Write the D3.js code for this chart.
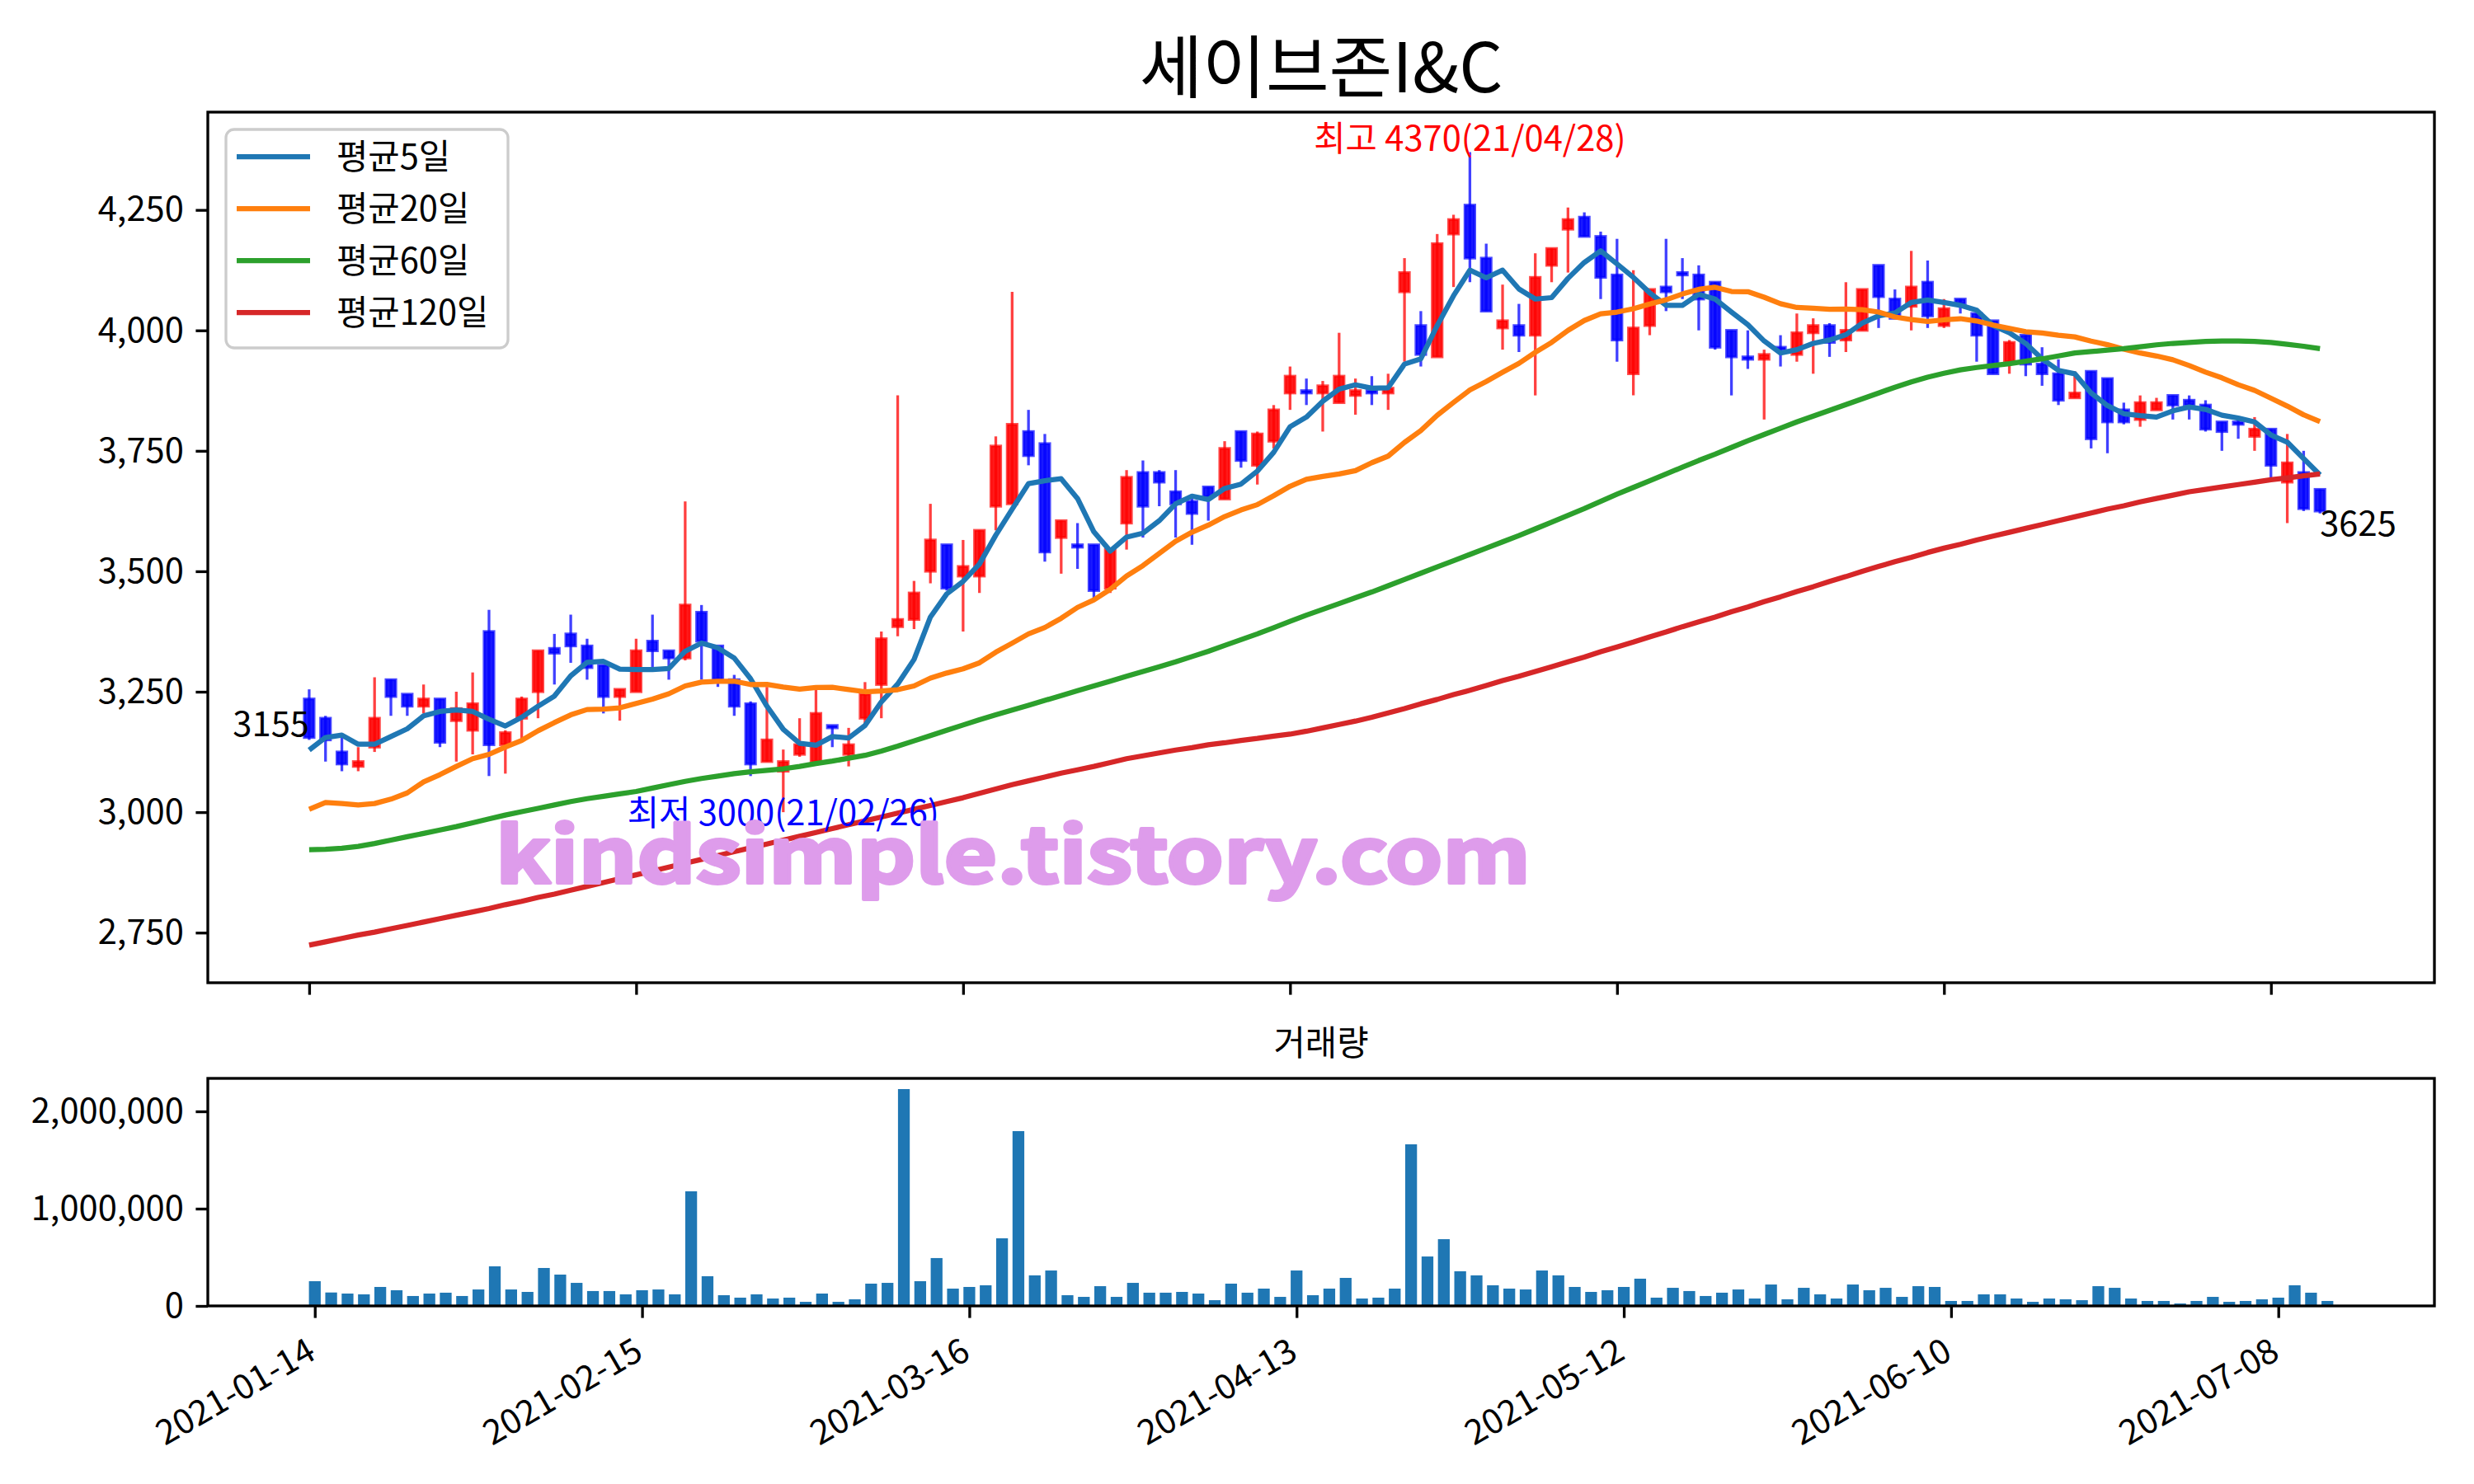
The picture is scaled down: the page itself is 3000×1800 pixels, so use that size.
<!DOCTYPE html>
<html><head><meta charset="utf-8">
<script src="https://cdn.jsdelivr.net/npm/d3@7"></script>
<style>
body{margin:0;background:#fff}
svg{display:block}
text{font-family:"Noto Sans CJK KR","Noto Sans",sans-serif}
</style>
</head><body>
<svg id="c" width="3000" height="1800"></svg>
<script>
const chartTitle = "세이브존I&C";
const volumeTitle = "거래량";
const tickIdx = [0,20,40,60,80,100,120];
const tickLabels = ["2021-01-14","2021-02-15","2021-03-16","2021-04-13","2021-05-12","2021-06-10","2021-07-08"];
const priceTicks = [2750,3000,3250,3500,3750,4000,4250];
const volumeTicks = [0,1000000,2000000];
const legendLabels = ["평균5일","평균20일","평균60일","평균120일"];
const highDateLabel = "21/04/28";
const lowDateLabel = "21/02/26";
const watermark = "kindsimple.tistory.com";

const openP = [3235,3195,3125,3095,3135,3275,3245,3220,3235,3190, 3170,3375,3140,3195,3250,3340,3370,3345,3305,3240, 3250,3355,3335,3320,3415,3345,3275,3225,3105,3085, 3120,3105,3180,3120,3195,3265,3385,3400,3500,3555, 3490,3490,3635,3640,3790,3765,3570,3555,3555,3465, 3600,3705,3705,3665,3645,3675,3650,3790,3720,3770, 3870,3875,3870,3850,3865,3875,3870,4080,4010,3945, 4200,4260,4150,4005,4010,3990,4135,4210,4235,4195, 4115,3910,4010,4090,4120,4115,4100,4000,3945,3940, 3965,3950,3995,4010,3980,4000,4135,4065,4050,4100, 4010,4065,4035,4020,3935,3990,3930,3910,3860,3915, 3900,3835,3815,3835,3865,3855,3845,3810,3810,3780, 3795,3685,3705,3670];
const highP = [3255,3200,3155,3135,3280,3275,3245,3265,3235,3250, 3290,3420,3170,3240,3335,3370,3410,3360,3305,3255, 3360,3410,3335,3645,3430,3345,3285,3230,3260,3130, 3195,3255,3180,3175,3270,3375,3865,3480,3640,3555, 3565,3585,3780,4080,3835,3785,3605,3600,3555,3545, 3710,3730,3710,3710,3660,3675,3770,3790,3790,3845, 3925,3900,3895,3995,3900,3905,3910,4150,4040,4200, 4240,4370,4180,4095,4055,4160,4170,4255,4245,4205, 4190,4125,4085,4190,4150,4135,4100,4000,4000,3960, 3990,4035,4025,4015,4100,4085,4135,4085,4165,4145, 4065,4065,4035,4020,3980,3990,3965,3940,3915,3915, 3900,3850,3865,3860,3865,3865,3855,3810,3815,3820, 3795,3785,3750,3670];
const lowP = [3150,3105,3085,3085,3125,3200,3200,3205,3135,3105, 3120,3075,3080,3150,3195,3265,3310,3275,3205,3190, 3250,3295,3275,3315,3275,3260,3200,3075,3105,3000, 3115,3105,3135,3095,3185,3195,3365,3380,3475,3460, 3375,3455,3585,3640,3720,3520,3495,3505,3445,3455, 3545,3570,3635,3570,3555,3605,3650,3715,3680,3755, 3835,3845,3790,3850,3825,3845,3835,3935,3925,3945, 4090,4100,4040,3960,3955,3865,4100,4120,4195,4065, 3935,3865,3990,4040,4065,4000,3960,3865,3920,3815, 3925,3935,3910,3945,3955,4000,4005,4025,4000,4005, 4005,4035,3935,3910,3910,3905,3885,3845,3860,3755, 3745,3805,3800,3835,3815,3815,3790,3750,3775,3750, 3690,3600,3625,3620];
const closeP = [3155,3150,3100,3105,3195,3240,3220,3235,3145,3215, 3225,3140,3165,3235,3335,3330,3345,3300,3240,3255, 3335,3335,3320,3430,3355,3275,3220,3100,3150,3105, 3140,3205,3175,3140,3245,3360,3400,3455,3565,3465, 3510,3585,3760,3805,3740,3540,3605,3550,3460,3545, 3695,3635,3685,3640,3620,3655,3755,3730,3785,3835, 3905,3870,3885,3905,3875,3870,3880,4120,3950,4180, 4230,4150,4040,4020,3990,4110,4170,4230,4195,4110, 3980,4005,4085,4080,4115,4065,3965,3945,3940,3950, 3960,3995,4010,3975,4000,4085,4070,4025,4090,4030, 4045,4055,3990,3910,3975,3930,3910,3855,3870,3775, 3810,3810,3850,3850,3845,3845,3795,3790,3805,3795, 3720,3725,3630,3625];
const volume = [254000,138000,127000,119000,195000,161000,102000,127000,136000,102000, 169000,407000,169000,144000,390000,322000,237000,153000,153000,119000, 161000,169000,119000,1178000,305000,110000,85000,119000,76000,85000, 42000,127000,42000,68000,229000,237000,2229000,254000,492000,178000, 195000,212000,695000,1797000,314000,364000,110000,93000,203000,93000, 237000,136000,136000,144000,127000,59000,229000,136000,178000,93000, 364000,110000,178000,288000,76000,85000,178000,1661000,508000,686000, 356000,314000,212000,178000,169000,364000,314000,195000,144000,161000, 195000,280000,85000,186000,153000,102000,136000,169000,76000,220000, 68000,186000,119000,76000,220000,161000,186000,93000,203000,195000, 51000,51000,119000,119000,76000,42000,76000,68000,59000,203000, 186000,76000,51000,51000,25000,51000,93000,42000,51000,68000, 85000,212000,136000,51000];
const ma5 = [3129,3155,3160,3141,3141,3157,3173,3200,3209,3212, 3209,3193,3179,3197,3220,3241,3283,3311,3313,3297, 3296,3296,3298,3334,3351,3341,3320,3277,3220,3172, 3143,3139,3157,3154,3180,3229,3266,3317,3405,3453, 3479,3515,3575,3629,3682,3688,3692,3651,3582,3542, 3571,3579,3605,3640,3656,3649,3672,3681,3708,3747, 3800,3820,3853,3878,3887,3880,3881,3930,3941,4010, 4072,4125,4109,4125,4086,4065,4068,4108,4141,4165, 4138,4110,4078,4052,4052,4075,4065,4038,4012,3978, 3953,3960,3973,3980,3991,4015,4030,4036,4058,4063, 4058,4052,4042,4010,3995,3973,3941,3917,3910,3870, 3844,3827,3823,3820,3833,3841,3836,3824,3818,3810, 3783,3768,3734,3700];
const ma20 = [3006,3020,3018,3015,3018,3027,3040,3063,3078,3095, 3111,3120,3135,3149,3169,3186,3202,3213,3214,3216.5, 3225.5,3234.8,3245.8,3262,3270,3271.8,3271.8,3265,3265.3,3259.8, 3255.5,3258.8,3259.3,3254.5,3250,3251.5,3254.3,3262,3278.3,3288.8, 3297.5,3310,3332,3350.8,3370,3383.3,3402.5,3425,3440.5,3462.5, 3490.3,3511.8,3537.3,3562.3,3581,3595.8,3613.5,3627.3,3638.3,3656.8, 3676.5,3690.8,3697,3702,3708.8,3725.3,3739,3767.5,3792,3823.8, 3850.5,3876.3,3894,3913,3931.5,3954.3,3975,4000,4020.5,4034.3, 4038,4044.8,4054.8,4063.5,4075.5,4085.3,4089.5,4080.8,4080.3,4068.8, 4055.3,4047.5,4046,4043.8,4044.3,4043,4038,4027.8,4022.5,4018.5, 4021.8,4024.3,4019.5,4011,4004,3997.3,3994.5,3990,3986.5,3977.8, 3970.3,3961,3953,3946.8,3939,3927,3913.3,3901.5,3887.3,3875.5, 3859.3,3842.8,3824.8,3810.5];
const ma60 = [2922,2923,2925,2929,2935,2942,2949,2956,2963,2970, 2978,2986,2994,3001,3008,3015,3022,3028,3033,3038, 3043,3050,3057,3064,3070,3075,3080,3084,3087,3090, 3095,3101,3106,3112,3118,3127,3137,3148,3159,3170, 3181,3192,3202,3212,3222,3232,3242,3252,3262,3272, 3282,3292,3302,3312,3323,3334,3346,3358,3370,3383, 3396,3409,3421,3433,3445,3457,3470,3483,3496,3509, 3522,3535,3548,3561,3574,3588,3602,3616,3630,3645, 3660,3674,3688,3702,3716,3730,3743,3757,3771,3784, 3797,3810,3822,3834,3846,3858,3870,3882,3893,3903, 3911,3918,3923,3927,3931,3936,3941,3947,3953,3956, 3959,3962,3966,3970,3973,3975,3977,3978,3978,3977, 3975,3971,3967,3962];
const ma120 = [2724,2731,2738,2745,2751,2758,2765,2772,2779,2786, 2793,2800,2808,2815,2823,2830,2838,2846,2854,2862, 2870,2878,2886,2894,2902,2910,2918,2926,2934,2942, 2950,2958,2966,2974,2982,2990,2998,3006,3014,3022, 3030,3039,3048,3057,3065,3073,3081,3088,3095,3103, 3111,3117,3123,3129,3134,3140,3144,3149,3153,3158, 3162,3168,3175,3182,3189,3197,3206,3215,3225,3234, 3244,3253,3263,3273,3282,3292,3302,3312,3322,3333, 3343,3353,3364,3374,3385,3395,3405,3416,3426,3437, 3447,3458,3468,3479,3489,3500,3510,3520,3529,3539, 3548,3556,3565,3573,3581,3589,3597,3605,3613,3621, 3629,3636,3644,3651,3658,3665,3670,3675,3680,3685, 3690,3694,3698,3702];

const maSeries = [ma5, ma20, ma60, ma120];
const maColors = ["#1f77b4","#ff7f0e","#2ca02c","#d62728"];

const svg = d3.select("#c");
svg.append("rect").attr("width",3000).attr("height",1800).attr("fill","#fff");

const M = {l:252, r:2952, t:136, b:1192};
const V = {l:252, r:2952, t:1308, b:1584};
const FS = 41.7, LW = 3.33, TL = 14.6;

const x = d3.scaleLinear().domain([-6.2, 130.0]).range([M.l, M.r]);
const y = d3.scaleLinear().domain([2646, 4453]).range([M.b, M.t]);
const xv = d3.scaleLinear().domain([-6.54, 129.54]).range([V.l, V.r]);
const yv = d3.scaleLinear().domain([0, 2339000]).range([V.b, V.t]);

const idx = d3.range(closeP.length);
const isUp = i => closeP[i] >= openP[i];
const col = i => isUp(i) ? "#ff0000" : "#0000ff";

// candles
const gC = svg.append("g");
gC.selectAll("line").data(idx).join("line")
  .attr("x1", i => x(i)).attr("x2", i => x(i))
  .attr("y1", i => y(highP[i])).attr("y2", i => y(lowP[i]))
  .attr("stroke", col).attr("stroke-opacity", 0.75).attr("stroke-width", 3.3);
const bw = 0.6 * (x(1) - x(0));
gC.selectAll("rect").data(idx).join("rect")
  .attr("x", i => x(i) - bw/2)
  .attr("y", i => y(Math.max(openP[i], closeP[i])))
  .attr("width", bw)
  .attr("height", i => Math.max(1, Math.abs(y(openP[i]) - y(closeP[i]))))
  .attr("fill", col).attr("fill-opacity", 0.9)
  .attr("stroke", col).attr("stroke-opacity", 0.7).attr("stroke-width", 3.3);

// moving averages
const line = d3.line().x((d,i) => x(i)).y(d => y(d));
maSeries.forEach((s, k) => {
  svg.append("path").attr("d", line(s)).attr("fill","none")
    .attr("stroke", maColors[k]).attr("stroke-width", 6.25)
    .attr("stroke-linejoin","round");
});

// annotations
const hi = d3.maxIndex(highP), lo = d3.minIndex(lowP);
svg.append("text").attr("x", x(hi)).attr("y", y(highP[hi]) - 2)
  .attr("text-anchor","middle").attr("font-size", FS).attr("fill","#ff0000")
  .text("최고 " + highP[hi] + "(" + highDateLabel + ")");
svg.append("text").attr("x", x(lo)).attr("y", y(lowP[lo]) + 16)
  .attr("text-anchor","middle").attr("font-size", FS).attr("fill","#0000ff")
  .text("최저 " + lowP[lo] + "(" + lowDateLabel + ")");
const last = closeP.length - 1;
svg.append("text").attr("x", x(0)).attr("y", y(closeP[0]) - 2)
  .attr("text-anchor","end").attr("font-size", FS).attr("fill","#000").text(closeP[0]);
svg.append("text").attr("x", x(last)).attr("y", y(closeP[last]) + 30)
  .attr("text-anchor","start").attr("font-size", FS).attr("fill","#000").text(closeP[last]);

// watermark
svg.append("text").attr("x", 601).attr("y", 1071)
  .attr("font-family","DejaVu Serif").attr("font-weight","bold")
  .attr("font-size", 92).attr("fill","#de9ceb").attr("stroke","#de9ceb")
  .attr("stroke-width",4).attr("stroke-linejoin","round")
  .attr("textLength", 1255).attr("lengthAdjust","spacingAndGlyphs")
  .text(watermark);

// main axes
function styleAxis(g){
  g.select(".domain").remove();
  g.selectAll("line").attr("stroke","#000").attr("stroke-width", LW);
  g.selectAll("text").attr("font-size", FS).attr("fill","#000")
    .attr("font-family","'Noto Sans CJK KR', sans-serif");
}
svg.append("g").attr("transform",`translate(${M.l},0)`)
  .call(d3.axisLeft(y).tickValues(priceTicks).tickFormat(d3.format(",")).tickSize(TL).tickPadding(TL))
  .call(styleAxis);
svg.append("g").attr("transform",`translate(0,${M.b})`)
  .call(d3.axisBottom(x).tickValues(tickIdx).tickFormat("").tickSize(TL))
  .call(styleAxis);
svg.append("rect").attr("x",M.l).attr("y",M.t).attr("width",M.r-M.l).attr("height",M.b-M.t)
  .attr("fill","none").attr("stroke","#000").attr("stroke-width",LW);

// title
svg.append("text").attr("x",(M.l+M.r)/2).attr("y",112).attr("text-anchor","middle")
  .attr("font-size",83.3).attr("fill","#000").text(chartTitle);

// legend
const lg = svg.append("g");
lg.append("rect").attr("x",274).attr("y",157).attr("width",342).attr("height",265)
  .attr("rx",10).attr("fill","#fff").attr("fill-opacity",0.8)
  .attr("stroke","#cccccc").attr("stroke-width",3.3);
legendLabels.forEach((lab,k)=>{
  const ly = 190 + k*63;
  lg.append("line").attr("x1",287).attr("x2",376).attr("y1",ly).attr("y2",ly)
    .attr("stroke",maColors[k]).attr("stroke-width",6.25);
  lg.append("text").attr("x",408).attr("y",ly+15).attr("font-size",FS).attr("fill","#000").text(lab);
});

// volume
const vbw = 0.72 * (xv(1) - xv(0));
svg.append("g").selectAll("rect").data(idx).join("rect")
  .attr("x", i => xv(i) - vbw/2).attr("y", i => yv(volume[i]))
  .attr("width", vbw).attr("height", i => yv(0) - yv(volume[i]))
  .attr("fill","#1f77b4");
svg.append("g").attr("transform",`translate(${V.l},0)`)
  .call(d3.axisLeft(yv).tickValues(volumeTicks).tickFormat(d3.format(",")).tickSize(TL).tickPadding(TL))
  .call(styleAxis);
const xa = svg.append("g").attr("transform",`translate(0,${V.b})`)
  .call(d3.axisBottom(xv).tickValues(tickIdx).tickFormat((d,i)=>tickLabels[i]).tickSize(TL))
  .call(styleAxis);
xa.selectAll("text").attr("y",0).attr("dy",null).attr("x",0)
  .attr("text-anchor","end").attr("transform","translate(3,63) rotate(-30)");
svg.append("rect").attr("x",V.l).attr("y",V.t).attr("width",V.r-V.l).attr("height",V.b-V.t)
  .attr("fill","none").attr("stroke","#000").attr("stroke-width",LW);
svg.append("text").attr("x",(V.l+V.r)/2).attr("y",1280).attr("text-anchor","middle")
  .attr("font-size",FS).attr("fill","#000").text(volumeTitle);
</script>
</body></html>
